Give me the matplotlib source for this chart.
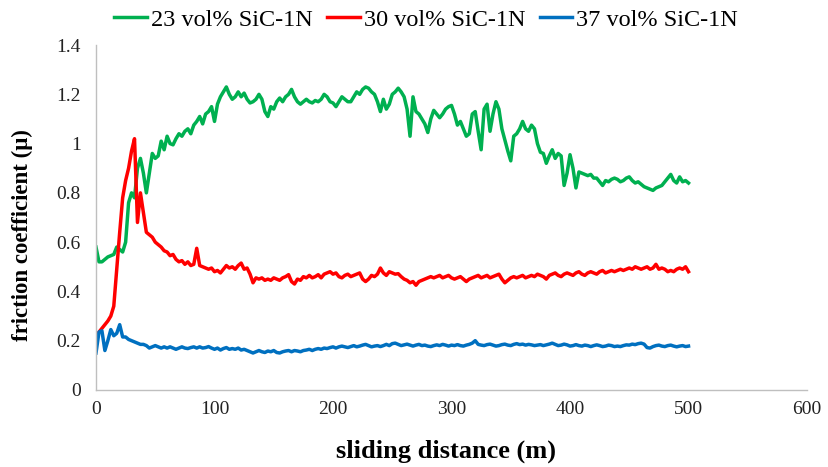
import numpy as np
import matplotlib.pyplot as plt
from matplotlib.ticker import FuncFormatter

# sliding distance sampled every 2.5 m, 0..500 m
distance = np.arange(0, 502.5, 2.5)

# 23 vol% SiC-1N (green)
mu_23 = [
    0.58, 0.52, 0.52, 0.53, 0.54, 0.545, 0.55, 0.58, 0.57, 0.56,
    0.60, 0.76, 0.80, 0.78, 0.90, 0.94, 0.88, 0.80, 0.88, 0.96,
    0.94, 0.95, 1.01, 0.975, 1.03, 1.00, 0.995, 1.02, 1.04, 1.03,
    1.05, 1.06, 1.04, 1.075, 1.09, 1.11, 1.08, 1.12, 1.13, 1.15,
    1.09, 1.16, 1.19, 1.21, 1.23, 1.20, 1.18, 1.19, 1.21, 1.19,
    1.205, 1.18, 1.165, 1.17, 1.18, 1.20, 1.18, 1.13, 1.11, 1.15,
    1.14, 1.17, 1.185, 1.17, 1.19, 1.20, 1.22, 1.19, 1.17, 1.16,
    1.17, 1.18, 1.17, 1.165, 1.175, 1.17, 1.18, 1.20, 1.19, 1.17,
    1.165, 1.15, 1.17, 1.19, 1.18, 1.17, 1.17, 1.19, 1.21, 1.20,
    1.22, 1.23, 1.225, 1.21, 1.20, 1.17, 1.13, 1.18, 1.14, 1.16,
    1.20, 1.21, 1.225, 1.21, 1.19, 1.14, 1.03, 1.19, 1.13, 1.12,
    1.10, 1.08, 1.045, 1.10, 1.135, 1.12, 1.105, 1.12, 1.14, 1.15,
    1.155, 1.12, 1.075, 1.09, 1.06, 1.03, 1.04, 1.12, 1.13, 1.05,
    0.975, 1.14, 1.16, 1.05, 1.12, 1.17, 1.14, 1.06, 1.015, 0.97,
    0.93, 1.03, 1.04, 1.06, 1.09, 1.06, 1.05, 1.075, 1.06, 1.00,
    0.965, 0.96, 0.92, 0.95, 0.975, 0.94, 0.96, 0.95, 0.83, 0.88,
    0.955, 0.90, 0.82, 0.885, 0.88, 0.875, 0.87, 0.875, 0.86, 0.86,
    0.845, 0.83, 0.85, 0.845, 0.855, 0.86, 0.855, 0.845, 0.85, 0.86,
    0.865, 0.85, 0.84, 0.845, 0.835, 0.825, 0.82, 0.815, 0.81, 0.82,
    0.825, 0.83, 0.845, 0.86, 0.875, 0.85, 0.84, 0.865, 0.845, 0.85,
    0.84,
]

# 30 vol% SiC-1N (red)
mu_30 = [
    0.215, 0.235, 0.25, 0.265, 0.28, 0.30, 0.34, 0.49, 0.64, 0.78,
    0.85, 0.90, 0.97, 1.02, 0.68, 0.80, 0.72, 0.64, 0.63, 0.62,
    0.60, 0.59, 0.58, 0.565, 0.56, 0.545, 0.55, 0.53, 0.52, 0.525,
    0.51, 0.52, 0.505, 0.51, 0.575, 0.505, 0.50, 0.495, 0.49, 0.495,
    0.48, 0.485, 0.475, 0.49, 0.505, 0.495, 0.50, 0.49, 0.505, 0.515,
    0.49, 0.495, 0.47, 0.435, 0.455, 0.45, 0.455, 0.445, 0.45, 0.445,
    0.455, 0.45, 0.445, 0.455, 0.46, 0.468, 0.44, 0.43, 0.45, 0.445,
    0.46, 0.455, 0.465, 0.455, 0.46, 0.468, 0.455, 0.47, 0.475, 0.48,
    0.47, 0.475, 0.46, 0.455, 0.465, 0.47, 0.46, 0.465, 0.47, 0.475,
    0.45, 0.44, 0.45, 0.465, 0.46, 0.47, 0.495, 0.475, 0.465, 0.48,
    0.475, 0.47, 0.472, 0.46, 0.45, 0.445, 0.435, 0.44, 0.425, 0.44,
    0.445, 0.45, 0.455, 0.46, 0.455, 0.46, 0.465, 0.455, 0.46, 0.465,
    0.455, 0.45, 0.455, 0.46, 0.45, 0.44, 0.45, 0.455, 0.46, 0.465,
    0.455, 0.46, 0.465, 0.455, 0.46, 0.465, 0.47, 0.45, 0.435, 0.445,
    0.455, 0.46, 0.455, 0.46, 0.465, 0.455, 0.46, 0.465, 0.46, 0.47,
    0.465, 0.46, 0.45, 0.465, 0.47, 0.475, 0.465, 0.46, 0.47, 0.475,
    0.47, 0.465, 0.475, 0.48, 0.47, 0.465, 0.475, 0.48, 0.475, 0.47,
    0.48, 0.485, 0.475, 0.48, 0.485, 0.48, 0.485, 0.49, 0.485, 0.49,
    0.495, 0.49, 0.50, 0.495, 0.49, 0.495, 0.50, 0.49, 0.495, 0.51,
    0.49, 0.495, 0.49, 0.48, 0.485, 0.48, 0.49, 0.495, 0.49, 0.50,
    0.48,
]

# 37 vol% SiC-1N (blue)
mu_37 = [
    0.15, 0.235, 0.24, 0.16, 0.20, 0.245, 0.22, 0.23, 0.265, 0.215,
    0.215, 0.205, 0.20, 0.195, 0.19, 0.185, 0.185, 0.18, 0.17, 0.175,
    0.18, 0.175, 0.17, 0.175, 0.17, 0.175, 0.17, 0.165, 0.17, 0.175,
    0.17, 0.168, 0.172, 0.175, 0.17, 0.175, 0.17, 0.172, 0.176, 0.17,
    0.165, 0.17, 0.162, 0.168, 0.172, 0.165, 0.168, 0.165, 0.17, 0.162,
    0.165, 0.16, 0.155, 0.15, 0.155, 0.16, 0.155, 0.152, 0.158, 0.155,
    0.16, 0.152, 0.15, 0.155, 0.158, 0.16, 0.155, 0.16, 0.158, 0.155,
    0.16, 0.162, 0.165, 0.16, 0.165, 0.168, 0.165, 0.17, 0.168, 0.172,
    0.175, 0.17, 0.175, 0.178, 0.175, 0.172, 0.176, 0.18, 0.175, 0.178,
    0.182, 0.185, 0.18, 0.175, 0.178, 0.18, 0.176, 0.18, 0.185, 0.18,
    0.188, 0.19, 0.185, 0.18, 0.183, 0.186, 0.182, 0.178, 0.182, 0.185,
    0.18, 0.182, 0.178, 0.176, 0.18, 0.183, 0.18, 0.185, 0.182, 0.178,
    0.182, 0.18, 0.184, 0.18, 0.178, 0.182, 0.185, 0.19, 0.20, 0.185,
    0.182, 0.18, 0.184, 0.186, 0.182, 0.178, 0.18, 0.184, 0.186, 0.182,
    0.18, 0.185, 0.188, 0.184, 0.186, 0.182, 0.185, 0.183, 0.18, 0.182,
    0.184, 0.18, 0.183, 0.186, 0.19, 0.185, 0.18, 0.182, 0.186, 0.183,
    0.178, 0.18, 0.184, 0.18, 0.178, 0.182, 0.18, 0.176, 0.18, 0.183,
    0.18, 0.176, 0.178, 0.182, 0.18, 0.176, 0.178, 0.176, 0.18, 0.183,
    0.182, 0.186, 0.184, 0.188, 0.19, 0.186, 0.172, 0.17, 0.176, 0.18,
    0.182, 0.178, 0.176, 0.18, 0.182, 0.178, 0.175, 0.178, 0.18, 0.176,
    0.178,
]

labels = ['23 vol% SiC-1N', '30 vol% SiC-1N', '37 vol% SiC-1N']
colors = ['#00b050', '#ff0000', '#0070c0']

plt.rcParams['font.family'] = ['Liberation Serif', 'DejaVu Serif']

fig = plt.figure(figsize=(8.29, 4.67), dpi=100)
ax = fig.add_axes([0.1158, 0.165, 0.8577, 0.7385])

for mu, lab, col in zip([mu_23, mu_30, mu_37], labels, colors):
    ax.plot(distance, mu, color=col, lw=2.5, label=lab)

ax.set_xlim(0, 600)
ax.set_ylim(0, 1.4)
ax.set_xticks(range(0, 601, 100))
ax.set_yticks(np.arange(0, 1.41, 0.2))
ax.yaxis.set_major_formatter(FuncFormatter(lambda v, p: f"{v:g}"))
ax.tick_params(length=0, labelsize=14, colors='#222222')
ax.tick_params(axis='y', pad=11)
ax.tick_params(axis='x', pad=8)

for s in ['top', 'right']:
    ax.spines[s].set_visible(False)
for s in ['left', 'bottom']:
    ax.spines[s].set_color('#bfbfbf')
    ax.spines[s].set_linewidth(1.0)

ax.set_xlabel('sliding distance (m)', fontsize=19, fontweight='bold', va='center')
ax.xaxis.set_label_coords(0.492, -0.178)
ax.set_ylabel('friction coefficient (\u03bc)', fontsize=16.5, fontweight='bold', va='center')
ax.yaxis.set_label_coords(-0.104, 0.45)

fig.legend(loc='center', bbox_to_anchor=(0.514, 0.958), ncol=3, frameon=False,
           fontsize=17.5, handlelength=1.35, handletextpad=0.15, columnspacing=0.6)

plt.savefig('out.png', dpi=100)
